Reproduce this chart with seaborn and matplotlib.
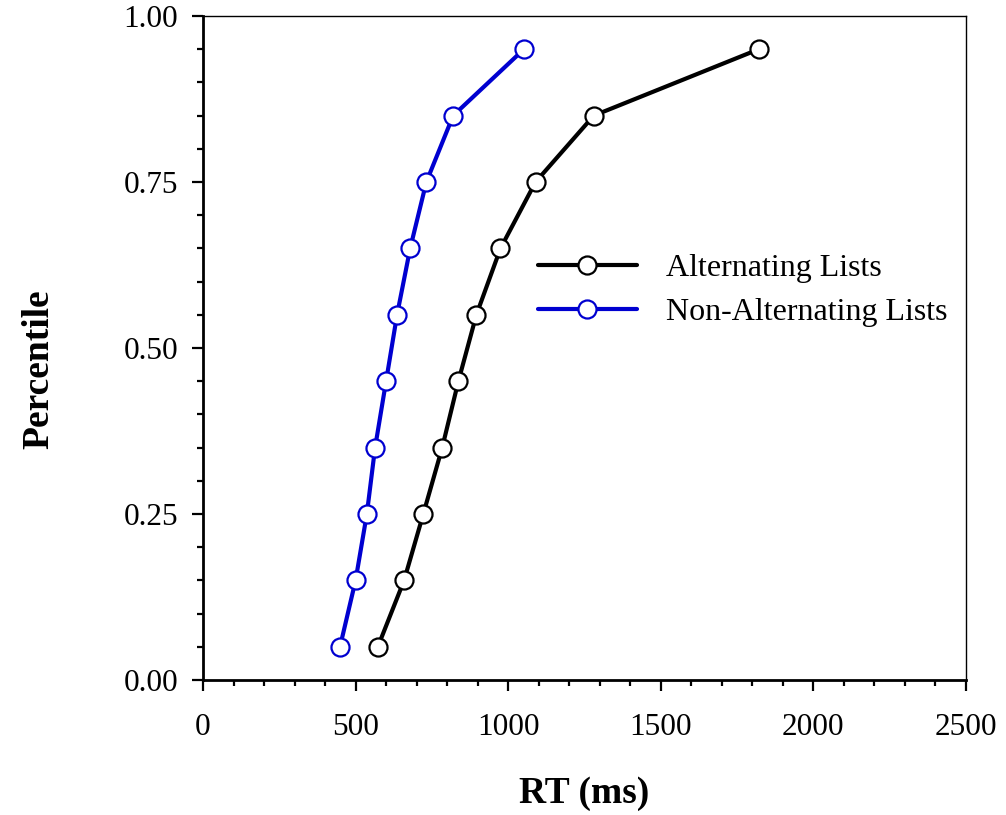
import pandas as pd
import matplotlib
matplotlib.use('Agg')
import matplotlib.pyplot as plt
import seaborn as sns
from matplotlib.ticker import MultipleLocator, FormatStrFormatter

percentiles = [0.05, 0.15, 0.25, 0.35, 0.45, 0.55, 0.65, 0.75, 0.85, 0.95]
alternating_rt = [573, 659, 722, 784, 837, 896, 975, 1090, 1281, 1822]
non_alternating_rt = [449, 500, 537, 564, 600, 636, 679, 732, 820, 1052]
series_names = ['Alternating Lists', 'Non-Alternating Lists']
series_colors = ['#000000', '#0000d0']


def build_frame():
    """
    Long-form table of the two RT distributions.
    """
    parts = []
    for name, rts in zip(series_names, [alternating_rt, non_alternating_rt]):
        parts.append(pd.DataFrame({'RT': rts, 'Percentile': percentiles, 'List': name}))
    return pd.concat(parts, ignore_index=True)


def main():
    df = build_frame()

    sns.set_style('ticks')
    plt.rcParams['font.family'] = ['Liberation Serif', 'DejaVu Serif']
    plt.rcParams['text.color'] = 'black'
    plt.rcParams['axes.labelcolor'] = 'black'
    plt.rcParams['xtick.color'] = 'black'
    plt.rcParams['ytick.color'] = 'black'
    plt.rcParams['axes.edgecolor'] = 'black'

    fig = plt.figure(figsize=(10.06, 8.15), dpi=100)
    ax = fig.add_axes([0.2018, 0.1656, 0.7582, 0.8148])

    for name, color in zip(series_names, series_colors):
        sns.lineplot(
            data=df[df['List'] == name],
            x='RT',
            y='Percentile',
            color=color,
            linewidth=3,
            marker='o',
            markersize=13,
            markerfacecolor='white',
            markeredgecolor=color,
            markeredgewidth=1.6,
            label=name,
            sort=False,
            ax=ax,
        )

    ax.set_xlim(0, 2500)
    ax.set_ylim(0, 1.0)
    ax.xaxis.set_major_locator(MultipleLocator(500))
    ax.xaxis.set_minor_locator(MultipleLocator(100))
    ax.yaxis.set_major_locator(MultipleLocator(0.25))
    ax.yaxis.set_minor_locator(MultipleLocator(0.05))
    ax.yaxis.set_major_formatter(FormatStrFormatter('%.2f'))

    for side in ['left', 'bottom']:
        ax.spines[side].set_linewidth(2)
    for side in ['top', 'right']:
        ax.spines[side].set_visible(True)
        ax.spines[side].set_linewidth(1)

    ax.tick_params(which='major', direction='out', length=8, width=1.6,
                   labelsize=22.5, top=False, right=False)
    ax.tick_params(which='minor', direction='out', length=4, width=1.6,
                   top=False, right=False)
    ax.tick_params(axis='y', which='major', pad=10)
    ax.tick_params(axis='x', which='major', pad=16)

    ax.set_xlabel('RT (ms)', fontsize=27, fontweight='bold', labelpad=24)
    ax.set_ylabel('Percentile', fontsize=27, fontweight='bold')
    # label sits a bit below the axes middle in the original
    ax.yaxis.set_label_coords(-0.192, 0.468)

    ax.legend(
        loc='center left',
        bbox_to_anchor=(0.439, 0.587),
        frameon=False,
        fontsize=23,
        handlelength=3.1,
        handletextpad=0.9,
        labelspacing=0.45,
        borderpad=0,
        borderaxespad=0,
    )

    fig.savefig('out.png', dpi=100)


if __name__ == '__main__':
    main()
